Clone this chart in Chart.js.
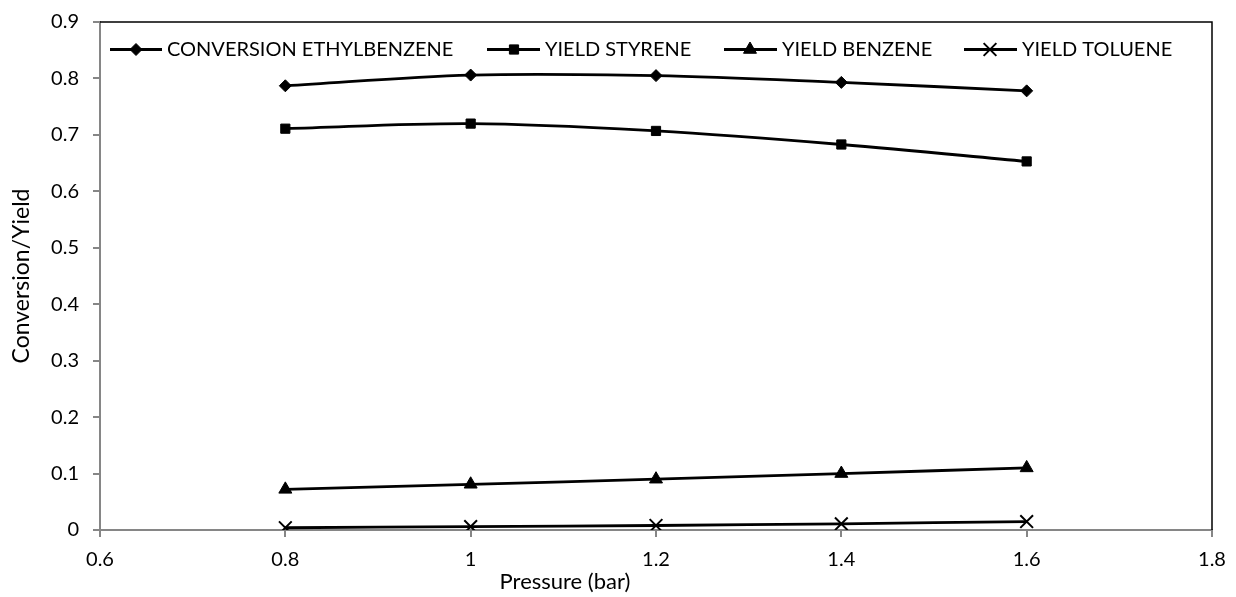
<!DOCTYPE html>
<html>
<head>
<meta charset="utf-8">
<script src="https://cdn.jsdelivr.net/npm/chart.js@4/dist/chart.umd.min.js"></script>
<style>
html,body{margin:0;padding:0;background:#fff;}
#wrap{width:1236px;height:597px;position:relative;}
</style>
</head>
<body>
<div id="wrap"><canvas id="c" width="1236" height="597"></canvas></div>
<script>
const pressure = [0.8, 1.0, 1.2, 1.4, 1.6];
const conversionEthylbenzene = [0.787, 0.806, 0.805, 0.793, 0.778];
const yieldStyrene = [0.711, 0.720, 0.707, 0.683, 0.653];
const yieldBenzene = [0.072, 0.081, 0.090, 0.100, 0.110];
const yieldToluene = [0.004, 0.006, 0.008, 0.011, 0.015];
const seriesNames = ['CONVERSION ETHYLBENZENE', 'YIELD STYRENE', 'YIELD BENZENE', 'YIELD TOLUENE'];
const xTitle = 'Pressure (bar)';
const yTitle = 'Conversion/Yield';

const FONT = 'Lato, "Open Sans", sans-serif';
const styles = [
  {pointStyle:'rectRot', radius:6},
  {pointStyle:'rect', radius:6.5},
  {pointStyle:'triangle', radius:7.5},
  {pointStyle:'crossRot', radius:9}
];
const seriesData = [conversionEthylbenzene, yieldStyrene, yieldBenzene, yieldToluene];

const datasets = seriesData.map((vals, i) => ({
  label: seriesNames[i],
  data: pressure.map((x, j) => ({x: x, y: vals[j]})),
  borderColor: '#000',
  backgroundColor: '#000',
  borderWidth: 2.8,
  pointStyle: styles[i].pointStyle,
  pointRadius: styles[i].radius,
  pointBorderWidth: i === 3 ? 2 : 1,
  pointBorderColor: '#000',
  pointBackgroundColor: '#000',
  tension: 0.35,
  fill: false
}));

const fmt = v => String(Number(Number(v).toFixed(2)));

const legendLayout = [
  {lx: 110, mx: 136, rx: 162, tx: 167},
  {lx: 487, mx: 514, rx: 540, tx: 545},
  {lx: 724, mx: 750, rx: 777, tx: 782},
  {lx: 964, mx: 990, rx: 1017, tx: 1022}
];

const framePlugin = {
  id: 'frame',
  afterDraw(chart) {
    const {ctx, chartArea: a} = chart;
    ctx.save();
    ctx.strokeStyle = '#000';
    ctx.lineWidth = 1.5;
    ctx.beginPath();
    ctx.moveTo(a.left, a.top);
    ctx.lineTo(a.right, a.top);
    ctx.lineTo(a.right, a.bottom);
    ctx.stroke();
    const ly = 49.5;
    ctx.font = '20px ' + FONT;
    ctx.textBaseline = 'middle';
    ctx.textAlign = 'left';
    chart.data.datasets.forEach((ds, i) => {
      const p = legendLayout[i];
      ctx.strokeStyle = '#000';
      ctx.fillStyle = '#000';
      ctx.lineWidth = 2.8;
      ctx.beginPath();
      ctx.moveTo(p.lx, ly);
      ctx.lineTo(p.rx, ly);
      ctx.stroke();
      ctx.lineWidth = ds.pointBorderWidth;
      Chart.helpers.drawPoint(ctx, {
        pointStyle: ds.pointStyle, radius: ds.pointRadius, rotation: 0,
        borderWidth: ds.pointBorderWidth
      }, p.mx, ly);
      ctx.fillStyle = '#000';
      ctx.fillText(ds.label, p.tx, ly);
    });
    ctx.textAlign = 'center';
    ctx.font = '22px ' + FONT;
    ctx.fillText(xTitle, 565, 582);
    ctx.restore();
  }
};

new Chart(document.getElementById('c'), {
  type: 'line',
  data: {datasets: datasets},
  options: {
    responsive: false,
    animation: false,
    devicePixelRatio: 1,
    layout: {padding: {left: 0, top: 22, right: 24, bottom: 0}},
    plugins: {legend: {display: false}, tooltip: {enabled: false}},
    scales: {
      x: {
        type: 'linear',
        min: 0.6, max: 1.8,
        afterFit(s) { s.height = 67; s.paddingLeft = 0; s.paddingRight = 0; },
        border: {display: true, color: '#868686', width: 2},
        grid: {display: true, drawOnChartArea: false, drawTicks: true, tickLength: 7, color: '#868686', lineWidth: 2},
        ticks: {stepSize: 0.2, padding: 11, color: '#000', font: {family: FONT, size: 20}, callback: v => fmt(v), maxRotation: 0, autoSkip: false},
        title: {display: false}
      },
      y: {
        type: 'linear',
        min: 0, max: 0.9,
        afterFit(s) { s.width = 100; s.paddingTop = 0; s.paddingBottom = 0; },
        border: {display: true, color: '#868686', width: 2},
        grid: {display: true, drawOnChartArea: false, drawTicks: true, tickLength: 7, color: '#868686', lineWidth: 2},
        ticks: {stepSize: 0.1, padding: 14, color: '#000', font: {family: FONT, size: 20}, callback: v => fmt(v), autoSkip: false},
        title: {display: true, text: yTitle, color: '#000', font: {family: FONT, size: 23}, padding: {top: 8, bottom: 0}}
      }
    }
  },
  plugins: [framePlugin]
});
</script>
</body>
</html>
